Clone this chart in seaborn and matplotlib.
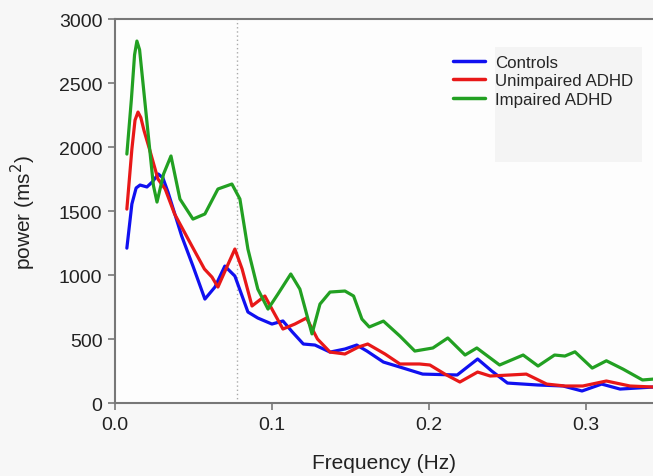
import matplotlib
matplotlib.use("Agg")
import matplotlib.pyplot as plt
import seaborn as sns
import pandas as pd

# Heart-rate variability power spectra per group
ctrl_f = [0.0076, 0.0108, 0.0135, 0.016, 0.0204, 0.024, 0.0276, 0.0305, 0.0338,
          0.0425, 0.0497, 0.0573, 0.0637, 0.070, 0.0764, 0.0847, 0.091, 0.100,
          0.107, 0.113, 0.120, 0.1274, 0.137, 0.1465, 0.154, 0.1605, 0.171,
          0.1815, 0.196, 0.218, 0.231, 0.240, 0.250, 0.269, 0.2854, 0.2975,
          0.310, 0.3217, 0.343]
ctrl_p = [1210, 1555, 1680, 1703, 1688, 1730, 1789, 1760, 1648,
          1305, 1070, 812, 906, 1070, 992, 711, 664, 617,
          641, 555, 461, 453, 398, 422, 453, 406, 320,
          281, 226, 219, 344, 250, 156, 141, 133, 94,
          148, 109, 125]

unimp_f = [0.0076, 0.0108, 0.0128, 0.0147, 0.0165, 0.0185, 0.022, 0.0274, 0.032,
           0.038, 0.049, 0.057, 0.0618, 0.0656, 0.0707, 0.0764, 0.081, 0.0873,
           0.0955, 0.100, 0.107, 0.1146, 0.122, 0.129, 0.137, 0.1465, 0.155,
           0.161, 0.172, 0.1815, 0.194, 0.2006, 0.210, 0.2197, 0.231, 0.239,
           0.2516, 0.262, 0.275, 0.2866, 0.298, 0.313, 0.328, 0.343]
unimp_p = [1515, 1984, 2210, 2273, 2230, 2130, 1984, 1750, 1672,
           1477, 1227, 1047, 984, 906, 1047, 1203, 1047, 758,
           836, 734, 578, 617, 664, 500, 398, 383, 437,
           461, 383, 305, 305, 297, 227, 164, 242, 211,
           219, 226, 148, 133, 133, 172, 133, 125]

imp_f = [0.0076, 0.0105, 0.0125, 0.014, 0.0157, 0.0178, 0.022, 0.0245, 0.0268,
         0.031, 0.0357, 0.0414, 0.0497, 0.0573, 0.0656, 0.0745, 0.0796, 0.0847,
         0.091, 0.0975, 0.1038, 0.112, 0.1178, 0.1255, 0.1306, 0.137, 0.1465,
         0.152, 0.1573, 0.162, 0.171, 0.1815, 0.191, 0.2025, 0.212, 0.223,
         0.2305, 0.245, 0.260, 0.2695, 0.280, 0.2866, 0.293, 0.304, 0.313,
         0.3236, 0.336, 0.343]
imp_p = [1945, 2375, 2720, 2828, 2760, 2508, 2000, 1700, 1570,
         1790, 1930, 1594, 1437, 1477, 1672, 1711, 1594, 1203,
         890, 734, 851, 1008, 890, 540, 773, 867, 875,
         836, 656, 594, 640, 523, 406, 430, 508, 375,
         430, 297, 375, 289, 375, 367, 400, 273, 330,
         265, 180, 187]

groups = ["Controls", "Unimpaired ADHD", "Impaired ADHD"]
colors = ["#1010f0", "#e81818", "#22a022"]
lf_hf_boundary = 0.0777

df = pd.concat([
    pd.DataFrame({"f": ctrl_f, "p": ctrl_p, "group": groups[0]}),
    pd.DataFrame({"f": unimp_f, "p": unimp_p, "group": groups[1]}),
    pd.DataFrame({"f": imp_f, "p": imp_p, "group": groups[2]}),
], ignore_index=True)

sns.set_style("ticks")
plt.rcParams["font.family"] = ["Liberation Sans", "DejaVu Sans"]

fig = plt.figure(figsize=(6.53, 4.77), dpi=100, facecolor="#f7f7f7")
ax = fig.add_axes([0.176, 0.153, 0.824, 0.805])
ax.set_facecolor("#fdfdfd")

# faint panel behind the legend
ax.add_patch(plt.Rectangle((0.707, 0.627), 0.273, 0.3, transform=ax.transAxes,
                           facecolor="#f4f4f4", edgecolor="none", zorder=0))

ax.axvline(lf_hf_boundary, color="#aaaaaa", linestyle=(0, (1, 2)), linewidth=1.0, zorder=1)

sns.lineplot(data=df, x="f", y="p", hue="group", hue_order=groups,
             palette=colors, linewidth=2.3, sort=False, estimator=None, ax=ax)
for line in ax.get_lines()[1:]:
    line.set_solid_joinstyle("round")
    line.set_solid_capstyle("round")

ax.set_xlim(0, 0.3427)
ax.set_ylim(0, 3000)
ax.set_xticks([0.0, 0.1, 0.2, 0.3])
ax.set_xticklabels(["0.0", "0.1", "0.2", "0.3"])
ax.set_yticks([0, 500, 1000, 1500, 2000, 2500, 3000])

for side in ["left", "bottom", "top"]:
    ax.spines[side].set_color("#777777")
    ax.spines[side].set_linewidth(1.5)
ax.spines["right"].set_visible(False)
ax.tick_params(axis="both", colors="#777777", labelcolor="#222222",
               labelsize=14, length=5, width=1.2, pad=4)

ax.set_xlabel("Frequency (Hz)", fontsize=15, color="#222222", labelpad=15)
ax.set_ylabel("power (ms$^2$)", fontsize=15, color="#222222", labelpad=15)

leg = ax.legend(loc="upper left", bbox_to_anchor=(0.615, 0.925), frameon=False,
                fontsize=12.2, handlelength=1.9, handletextpad=0.6,
                labelspacing=0.22, borderaxespad=0)
for line in leg.get_lines():
    line.set_linewidth(2.5)

fig.savefig("out.png", dpi=100, facecolor=fig.get_facecolor())
